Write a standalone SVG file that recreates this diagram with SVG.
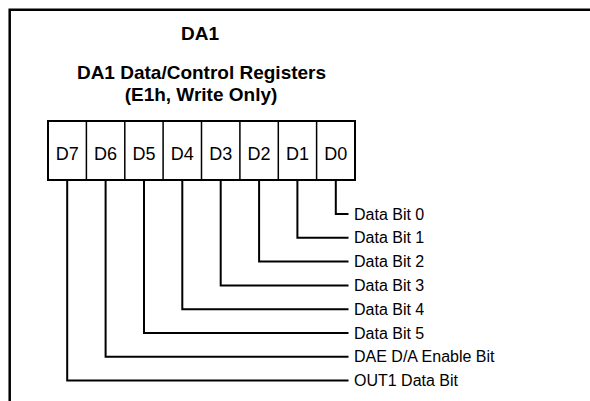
<svg xmlns="http://www.w3.org/2000/svg" width="590" height="401" viewBox="0 0 590 401">
<style>
.t{font-family:"Liberation Sans",Arial,sans-serif;font-weight:bold;font-size:19px;fill:#000;text-anchor:middle}
.r{font-family:"Liberation Sans",Arial,sans-serif;font-size:18px;fill:#000;text-anchor:middle}
.l{font-family:"Liberation Sans",Arial,sans-serif;font-size:16px;fill:#000}
.c{fill:none;stroke:#000;stroke-width:2}
</style>
<rect width="590" height="401" fill="#fff"/>
<path d="M9.7 401V9.7H590" fill="none" stroke="#000" stroke-width="2.5"/>
<g id="title">
<text class="t" x="200" y="40">DA1</text>
<text class="t" x="201.5" y="79">DA1 Data/Control Registers</text>
<text class="t" x="201" y="100.6">(E1h, Write Only)</text>
</g>
<g id="register">
<rect x="48" y="121" width="307" height="59" fill="#fff" stroke="#000" stroke-width="2"/>
<path d="M86.4 121V180M124.8 121V180M163.1 121V180M201.5 121V180M239.9 121V180M278.3 121V180M316.6 121V180" stroke="#000" stroke-width="1.5"/>
<text class="r" x="67.2" y="159.5">D7</text>
<text class="r" x="105.6" y="159.5">D6</text>
<text class="r" x="144" y="159.5">D5</text>
<text class="r" x="182.3" y="159.5">D4</text>
<text class="r" x="220.7" y="159.5">D3</text>
<text class="r" x="259.1" y="159.5">D2</text>
<text class="r" x="297.4" y="159.5">D1</text>
<text class="r" x="335.8" y="159.5">D0</text>
</g>
<g id="connectors">
<path class="c" d="M335.8 180V214H348.5"/>
<path class="c" d="M297.4 180V237.8H348.5"/>
<path class="c" d="M259.1 180V261.6H348.5"/>
<path class="c" d="M220.7 180V285.4H348.5"/>
<path class="c" d="M182.3 180V309.2H348.5"/>
<path class="c" d="M144 180V333H348.5"/>
<path class="c" d="M105.6 180V356.8H348.5"/>
<path class="c" d="M67.2 180V380.6H348.5"/>
</g>
<g id="labels">
<text class="l" x="354" y="219.6">Data Bit 0</text>
<text class="l" x="354" y="243.4">Data Bit 1</text>
<text class="l" x="354" y="267.2">Data Bit 2</text>
<text class="l" x="354" y="291">Data Bit 3</text>
<text class="l" x="354" y="314.8">Data Bit 4</text>
<text class="l" x="354" y="338.6">Data Bit 5</text>
<text class="l" x="354" y="362.4">DAE D/A Enable Bit</text>
<text class="l" x="354" y="386.2">OUT1 Data Bit</text>
</g>
</svg>
